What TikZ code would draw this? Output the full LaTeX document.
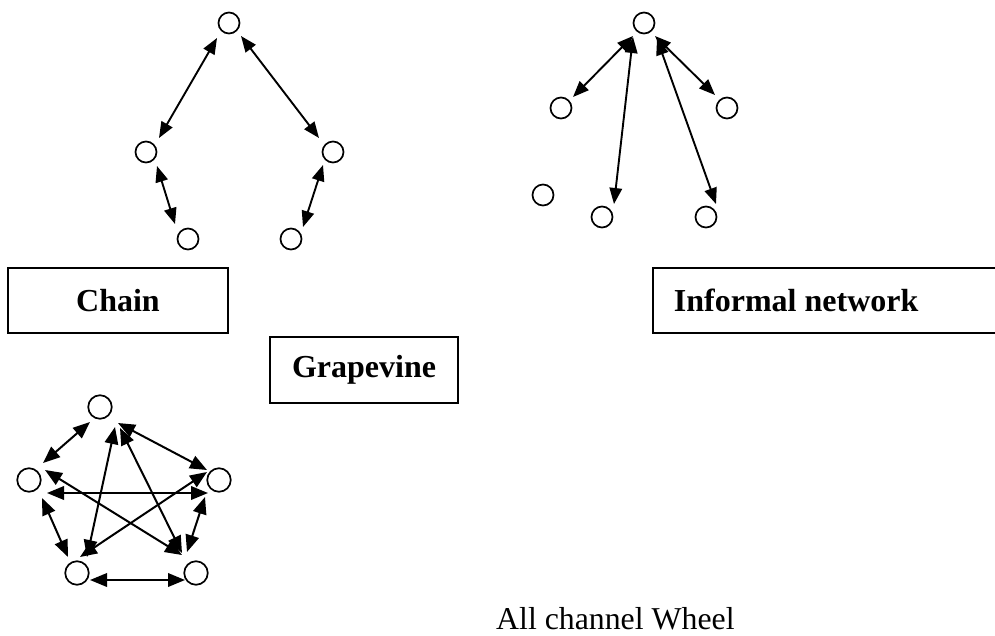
\documentclass[tikz,border=0pt]{standalone}
\usepackage{fontspec}
\setmainfont{Liberation Serif}
\usetikzlibrary{arrows.meta}

\tikzset{
  person/.style={circle, draw, line width=1.7pt, minimum size=21pt, inner sep=0pt},
  bigperson/.style={person, minimum size=23.5pt},
  link/.style={line width=1.9pt, {Triangle[length=16pt,width=12.5pt]}-{Triangle[length=16pt,width=12.5pt]}},
  wlink/.style={line width=2pt, {Triangle[length=17pt,width=13.5pt]}-{Triangle[length=17pt,width=13.5pt]}},
  titlebox/.style={draw, line width=1.9pt, inner sep=0pt, font=\fontsize{32}{38}\selectfont\bfseries},
  caption/.style={inner sep=0pt, font=\fontsize{31.8}{38}\selectfont}
}

\begin{document}
\begin{tikzpicture}[x=1pt, y=-1pt]
  \useasboundingbox (0,0) rectangle (995,635);

  % Chain / grapevine tree
  \node[person] (T)  at (229,23)  {};
  \node[person] (L)  at (146,152) {};
  \node[person] (R)  at (333,152) {};
  \node[person] (BL) at (188,239) {};
  \node[person] (BR) at (291,239) {};

  \draw[link] ([shift={(-12,15)}]T.center) -- ([shift={(13,-14)}]L.center);
  \draw[link] ([shift={(12,13)}]T.center) -- ([shift={(-14,-14)}]R.center);
  \draw[link] ([shift={(11,14)}]L.center) -- ([shift={(-13,-15)}]BL.center);
  \draw[link] ([shift={(-10,13)}]R.center) -- ([shift={(12,-12)}]BR.center);

  % Informal network
  \node[person] (IT)  at (644,23)  {};
  \node[person] (IL)  at (561,108) {};
  \node[person] (IR)  at (727,108) {};
  \node[person] (IX)  at (543,195) {};
  \node[person] (IBL) at (602,217) {};
  \node[person] (IBR) at (706,217) {};

  \draw[link] ([shift={(-11,13)}]IT.center) -- ([shift={(12,-11)}]IL.center);
  \draw[link] ([shift={(-11,14)}]IT.center) -- ([shift={(12,-13)}]IBL.center);
  \draw[link] ([shift={(11,13)}]IT.center) -- ([shift={(-12,-13)}]IR.center);
  \draw[link] ([shift={(13,16)}]IT.center) -- ([shift={(10,-13)}]IBR.center);

  % All channel wheel
  \node[bigperson] (WT)  at (100,407) {};
  \node[bigperson] (WL)  at (29,480)  {};
  \node[bigperson] (WR)  at (219,480) {};
  \node[bigperson] (WBL) at (77,573)  {};
  \node[bigperson] (WBR) at (196,573) {};

  \draw[wlink] ([shift={(-10,15)}]WT.center) -- ([shift={(14,-17)}]WL.center);
  \draw[wlink] ([shift={(18,16)}]WT.center) -- ([shift={(-12,-10)}]WR.center);
  \draw[wlink] ([shift={(15,20)}]WT.center) -- ([shift={(10,-16)}]WBL.center);
  \draw[wlink] ([shift={(20,21)}]WT.center) -- ([shift={(-14,-20)}]WBR.center);
  \draw[wlink] ([shift={(18,13)}]WL.center) -- ([shift={(-11,13)}]WR.center);
  \draw[wlink] ([shift={(16,-10)}]WL.center) -- ([shift={(-14,-18)}]WBR.center);
  \draw[wlink] ([shift={(-12,-8)}]WR.center) -- ([shift={(3,-16)}]WBL.center);
  \draw[wlink] ([shift={(13,18)}]WL.center) -- ([shift={(-9,-16)}]WBL.center);
  \draw[wlink] ([shift={(-14,17)}]WR.center) -- ([shift={(-9,-21)}]WBR.center);
  \draw[wlink] ([shift={(13,7)}]WBL.center) -- ([shift={(-11,7)}]WBR.center);

  % Labels
  \node[titlebox, minimum width=220pt, minimum height=65pt] (chain) at (118,300.5) {Chain};
  \node[titlebox, minimum width=188pt, minimum height=66pt] (grape) at (364,370) {Grapevine};
  \draw[line width=1.9pt] (995,268) -- (653,268) -- (653,333) -- (995,333);
  \node[titlebox, draw=none, anchor=west] (informal) at (673,300.5) {Informal network};
  \node[caption, anchor=base west] (allch) at (496,629) {All channel Wheel};
\end{tikzpicture}
\end{document}
